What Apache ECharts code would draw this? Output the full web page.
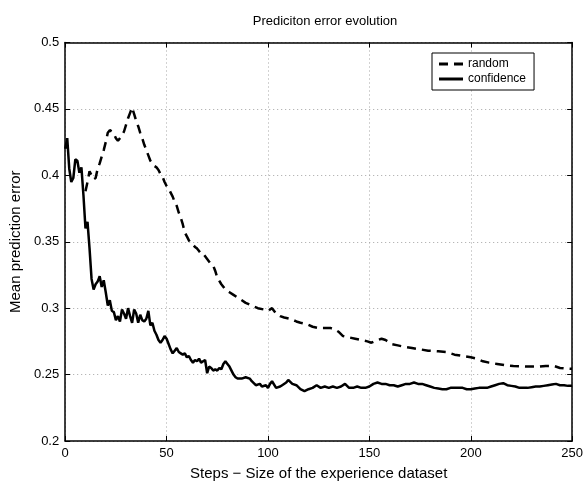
<!DOCTYPE html>
<html>
<head>
<meta charset="utf-8">
<script src="https://cdn.jsdelivr.net/npm/echarts@6/dist/echarts.min.js"></script>
<style>html,body{margin:0;padding:0;background:#fff}#c{width:586px;height:486px}</style>
</head>
<body>
<div id="c"></div>
<script>
var titleText = "Prediciton error evolution";
var xName = "Steps \u2212 Size of the experience dataset";
var yName = "Mean prediction error";
var seriesNames = ["random", "confidence"];
var xTicks = [0, 50, 100, 150, 200, 250];
var yTicks = [0.2, 0.25, 0.3, 0.35, 0.4, 0.45, 0.5];

var confidenceSteps = [0,1,2,3,4,5,6,7,8,9,10,11,12,13,14,15,16,17,18,19,20,21,22,23,24,25,26,27,28,29,30,31,32,33,34,35,36,37,38,39,40,41,42,43,44,45,46,47,48,49,50,51,52,53,54,55,56,57,58,59,60,61,62,63,64,65,66,67,68,69,70,71,72,73,74,75,76,77,78,79,80,81,82,83,84,85,87,89,91,92,94,96,97,99,100,101,102,104,106,107,109,110,112,114,116,118,120,122,124,126,128,130,132,134,136,138,140,142,144,146,148,150,152,154,156,158,160,162,164,166,168,170,172,174,176,178,180,182,184,186,188,190,192,194,196,198,200,202,204,206,208,210,212,214,216,218,220,222,224,226,228,230,232,234,236,238,240,242,244,246,248,250];
var confidenceValues = [0.420,0.428,0.405,0.395,0.398,0.412,0.411,0.402,0.406,0.385,0.360,0.365,0.345,0.322,0.314,0.318,0.320,0.324,0.316,0.321,0.312,0.302,0.306,0.298,0.297,0.291,0.294,0.290,0.299,0.296,0.292,0.300,0.294,0.289,0.299,0.296,0.289,0.295,0.291,0.290,0.292,0.298,0.287,0.289,0.283,0.280,0.276,0.274,0.276,0.279,0.277,0.273,0.269,0.266,0.268,0.270,0.267,0.266,0.265,0.266,0.263,0.264,0.261,0.259,0.261,0.260,0.262,0.259,0.260,0.261,0.251,0.256,0.255,0.253,0.254,0.253,0.255,0.254,0.258,0.260,0.258,0.256,0.253,0.250,0.248,0.247,0.247,0.248,0.247,0.245,0.242,0.243,0.241,0.242,0.240,0.243,0.245,0.240,0.241,0.242,0.244,0.246,0.243,0.242,0.239,0.2375,0.239,0.240,0.242,0.240,0.241,0.240,0.241,0.240,0.241,0.243,0.240,0.240,0.241,0.240,0.240,0.241,0.243,0.244,0.243,0.243,0.242,0.242,0.241,0.242,0.243,0.243,0.244,0.243,0.243,0.242,0.241,0.240,0.2395,0.239,0.239,0.240,0.240,0.240,0.240,0.239,0.239,0.2395,0.240,0.240,0.240,0.241,0.242,0.243,0.2435,0.242,0.2415,0.241,0.240,0.240,0.240,0.2405,0.241,0.241,0.2415,0.242,0.2425,0.243,0.242,0.242,0.2415,0.2415];

var randomSteps = [10,11,12,13,14,15,16,17,18,19,20,21,22,23,24,25,26,27,28,29,30,31,32,33,34,35,36,37,38,39,40,41,42,43,44,45,46,47,48,49,50,51,52,53,54,55,56,57,58,59,60,61,62,63,64,65,66,67,68,69,70,71,72,73,74,75,77,79,81,83,86,89,92,95,98,100,102,104,106,108,111,114,116,119,122,125,128,131,133,135,137,140,143,146,149,151,154,156,158,161,164,167,171,175,179,184,188,192,196,200,203,206,209,213,217,221,225,229,233,237,241,244,247,250];
var randomValues = [0.388,0.395,0.403,0.400,0.397,0.398,0.405,0.409,0.414,0.419,0.425,0.432,0.434,0.433,0.431,0.428,0.426,0.428,0.430,0.433,0.438,0.443,0.447,0.451,0.446,0.441,0.437,0.432,0.428,0.423,0.419,0.415,0.411,0.409,0.407,0.406,0.404,0.401,0.399,0.395,0.392,0.390,0.387,0.384,0.380,0.377,0.372,0.368,0.363,0.357,0.354,0.351,0.349,0.348,0.346,0.345,0.343,0.341,0.341,0.339,0.337,0.335,0.333,0.332,0.328,0.323,0.318,0.314,0.312,0.310,0.307,0.304,0.302,0.300,0.299,0.298,0.300,0.296,0.294,0.293,0.292,0.290,0.289,0.288,0.286,0.285,0.285,0.285,0.284,0.282,0.279,0.278,0.277,0.276,0.275,0.274,0.276,0.277,0.276,0.273,0.272,0.271,0.270,0.269,0.268,0.2675,0.267,0.265,0.264,0.263,0.262,0.260,0.259,0.258,0.257,0.2565,0.2563,0.256,0.256,0.2565,0.2565,0.255,0.2545,0.2543];

function pairs(xs, ys) { return xs.map(function (x, i) { return [x, ys[i]]; }); }

var FONT = "Liberation Sans";
var chart = echarts.init(document.getElementById('c'), null, { renderer: 'canvas' });
var gridLine = { show: true, lineStyle: { color: '#a5a5a5', width: 1, type: [1, 3] } };
var axisLineStyle = { show: true, onZero: false, lineStyle: { color: '#000', width: 1.5 } };

chart.setOption({
  backgroundColor: '#fff',
  animation: false,
  title: {
    text: titleText, left: 320, top: 10, textAlign: 'center',
    textStyle: { fontFamily: FONT, fontSize: 13, fontWeight: 'normal', color: '#000' }
  },
  grid: { left: 65, right: 12, top: 42.5, bottom: 41.5, containLabel: false },
  legend: {
    orient: 'vertical', left: 432, top: 53, width: 114,
    itemWidth: 24, itemHeight: 3, itemGap: 3, symbolKeepAspect: false,
    padding: [5, 8, 5, 7],
    backgroundColor: '#fff', borderColor: '#000', borderWidth: 1,
    textStyle: { fontFamily: FONT, fontSize: 12, color: '#000' },
    itemStyle: { color: '#000', borderWidth: 0 },
    lineStyle: { width: 0 },
    data: [
      { name: seriesNames[0], icon: 'path://M0,0H9V3H0Z M15,0H24V3H15Z' },
      { name: seriesNames[1], icon: 'path://M0,0H24V3H0Z' }
    ]
  },
  xAxis: [{
    type: 'value', min: xTicks[0], max: xTicks[xTicks.length - 1], interval: 50,
    name: xName, nameLocation: 'middle', nameGap: 25,
    nameTextStyle: { fontFamily: FONT, fontSize: 15, color: '#000' },
    axisLine: axisLineStyle,
    axisTick: { show: true, inside: true, length: 5, lineStyle: { color: '#000' } },
    axisLabel: { fontFamily: FONT, fontSize: 13, color: '#000', margin: 6 },
    splitLine: gridLine
  }, {
    type: 'value', position: 'top', min: xTicks[0], max: xTicks[xTicks.length - 1], interval: 50,
    axisLine: axisLineStyle,
    axisTick: { show: true, inside: true, length: 5, lineStyle: { color: '#000' } },
    axisLabel: { show: false }, splitLine: { show: false }
  }],
  yAxis: [{
    type: 'value', min: yTicks[0], max: yTicks[yTicks.length - 1], interval: 0.05,
    name: yName, nameLocation: 'middle', nameGap: 42,
    nameTextStyle: { fontFamily: FONT, fontSize: 15, color: '#000' },
    axisLine: axisLineStyle,
    axisTick: { show: true, inside: true, length: 5, lineStyle: { color: '#000' } },
    axisLabel: { fontFamily: FONT, fontSize: 13, color: '#000', margin: 6,
      formatter: function (v) { return String(Math.round(v * 100) / 100); } },
    splitLine: gridLine
  }, {
    type: 'value', position: 'right', min: yTicks[0], max: yTicks[yTicks.length - 1], interval: 0.05,
    axisLine: axisLineStyle,
    axisTick: { show: true, inside: true, length: 5, lineStyle: { color: '#000' } },
    axisLabel: { show: false }, splitLine: { show: false }
  }],
  series: [{
    name: seriesNames[0], type: 'line', xAxisIndex: 0, yAxisIndex: 0,
    data: pairs(randomSteps, randomValues),
    showSymbol: false, symbol: 'none',
    lineStyle: { color: '#000', width: 2.5, type: [9, 6] },
    itemStyle: { color: '#000' }
  }, {
    name: seriesNames[1], type: 'line', xAxisIndex: 0, yAxisIndex: 0,
    data: pairs(confidenceSteps, confidenceValues),
    showSymbol: false, symbol: 'none',
    lineStyle: { color: '#000', width: 2.5 },
    itemStyle: { color: '#000' }
  }]
});
</script>
</body>
</html>
